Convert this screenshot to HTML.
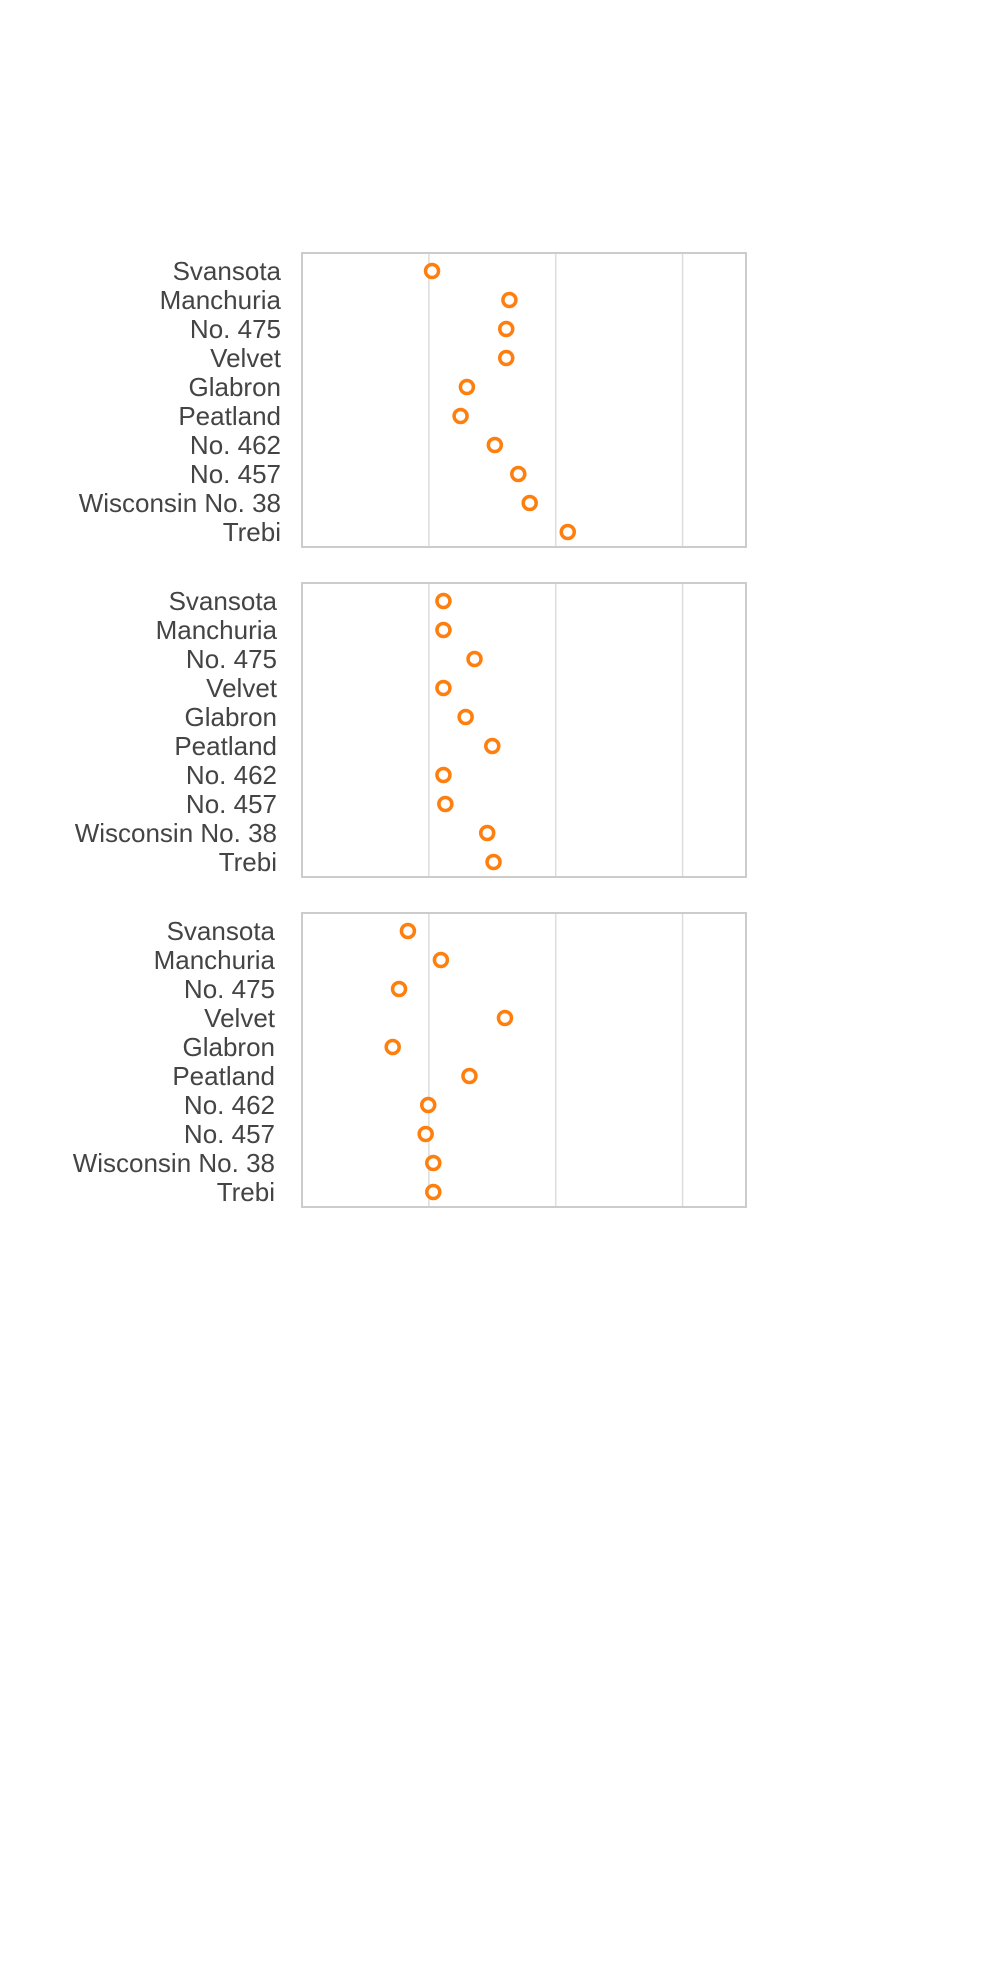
<!DOCTYPE html>
<html><head><meta charset="utf-8"><style>
body{margin:0;background:#fff}
svg text{font-family:"Liberation Sans",sans-serif;font-size:26px;fill:#444;font-weight:300}
</style></head><body>
<svg id="chart" width="1006" height="1973" xmlns="http://www.w3.org/2000/svg"></svg>
<script>
const varieties=["Svansota","Manchuria","No. 475","Velvet","Glabron","Peatland","No. 462","No. 457","Wisconsin No. 38","Trebi"];
const panel1Values=[20.5,32.7,32.2,32.2,26.0,25.0,30.4,34.1,35.9,41.9];
const panel2Values=[22.3,22.3,27.2,22.3,25.8,30.0,22.3,22.6,29.2,30.2];
const panel3Values=[16.7,21.9,15.3,32.0,14.3,26.4,19.9,19.5,20.7,20.7];
const xTicks=[20,40,60];
const xMax=70;
const NS="http://www.w3.org/2000/svg";
const svg=document.getElementById('chart');
function mk(t,a,p){const e=document.createElementNS(NS,t);for(const k in a)e.setAttribute(k,a[k]);(p||svg).appendChild(e);return e;}
const X0=302,W=444,H=294;
const xs=v=>X0+v/xMax*W;
const panels=[{top:253,vals:panel1Values,lx:281},{top:583,vals:panel2Values,lx:277},{top:913,vals:panel3Values,lx:275}];
panels.forEach((p,pi)=>{
  const g=mk('g',{});
  
  
  xTicks.forEach(t=>{
    const l=mk('line',{x1:xs(t),x2:xs(t),y1:p.top,y2:p.top+H,stroke:'#ddd','stroke-width':1.5},g);
    
    
  });
  const r=mk('rect',{x:X0,y:p.top,width:W,height:H,fill:'none',stroke:'#ccc','stroke-width':2},g);
  
  
  const ys=i=>p.top+18+i*29.0;
  varieties.forEach((v,i)=>{
    const t=mk('text',{x:p.lx,y:ys(i)+9,'text-anchor':'end'},g);
    t.textContent=v;
    
    
    const c=mk('circle',{cx:xs(p.vals[i]),cy:ys(i),r:6.5,fill:'#fff',stroke:'#ff7f0e','stroke-width':3.5},g);
    
    
  });
});
</script>
</body></html>
